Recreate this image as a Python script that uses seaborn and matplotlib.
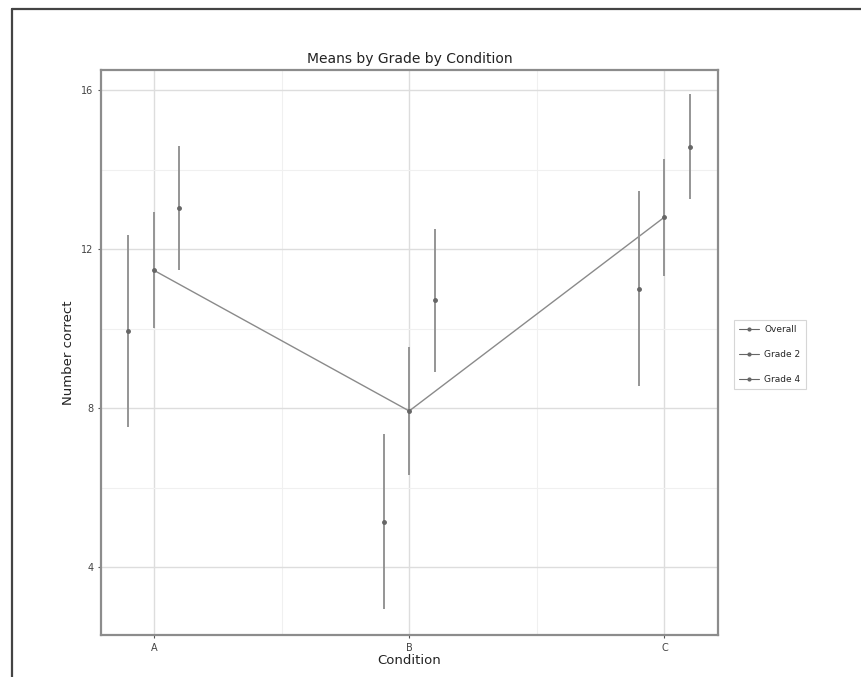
import numpy as np
import pandas as pd
import matplotlib.pyplot as plt
import seaborn as sns
from matplotlib.lines import Line2D

# Data
conditions = ['A', 'B', 'C']
overall_mean = [11.47, 7.93, 12.81]
overall_err = [1.46, 1.62, 1.47]
grade2_mean = [9.94, 5.14, 11.01]
grade2_err = [2.42, 2.20, 2.45]
grade4_mean = [13.05, 10.72, 14.58]
grade4_err = [1.56, 1.80, 1.32]

sns.set_theme(style='whitegrid')
plt.rcParams['font.family'] = ['DejaVu Sans']

fig = plt.figure(figsize=(8.62, 6.77), dpi=100)
ax = fig.add_axes([0.117, 0.062, 0.716, 0.835])

pos = np.arange(len(conditions))
df = pd.DataFrame({'pos': pos, 'mean': overall_mean})

grey = '#666666'
# connecting line for the overall means
sns.lineplot(data=df, x='pos', y='mean', ax=ax, color='#8a8a8a', lw=1.0, zorder=3)

series = [
    (overall_mean, overall_err, 0.0),
    (grade2_mean, grade2_err, -0.1),
    (grade4_mean, grade4_err, 0.1),
]
for means, errs, off in series:
    ax.errorbar(pos + off, means, yerr=errs, fmt='o', ms=2.5, color=grey,
                ecolor='#959595', elinewidth=1.4, capsize=0, zorder=4)

ax.set_xlim(-0.208, 2.21)
ax.set_ylim(2.29, 16.52)
ax.set_xticks(pos)
ax.set_xticklabels(conditions)
ax.set_yticks([4, 8, 12, 16])
ax.set_xticks([0.5, 1.5], minor=True)
ax.set_yticks([6, 10, 14], minor=True)
ax.grid(True, which='major', color='#dddddd', lw=1.0)
ax.grid(True, which='minor', color='#f0f0f0', lw=0.8)
for s in ax.spines.values():
    s.set_color('#8c8c8c')
    s.set_linewidth(1.6)
ax.tick_params(axis='both', which='major', labelsize=7, length=2.5, width=0.8,
               color='#555555', labelcolor='#444444', pad=3, left=True, bottom=True)
ax.tick_params(which='minor', length=0)

ax.set_title('Means by Grade by Condition', fontsize=10, color='#222222', pad=5)
ax.set_xlabel('Condition', fontsize=9.5, color='#222222', labelpad=1)
ax.set_ylabel('Number correct', fontsize=9.5, color='#222222', labelpad=4)

handles = [Line2D([0], [0], color=grey, lw=0.8, marker='o', ms=2) for _ in range(3)]
leg = fig.legend(handles, ['Overall', 'Grade 2', 'Grade 4'], loc='center left',
                 bbox_to_anchor=(0.846, 0.476), fontsize=6.5, frameon=True,
                 handlelength=2.2, labelspacing=1.75, borderpad=0.6, handletextpad=0.6)
leg.get_frame().set_edgecolor('#cccccc')
leg.get_frame().set_linewidth(0.8)
leg.get_frame().set_boxstyle('square', pad=0)

# outer border (top and left edges visible)
fig.add_artist(Line2D([0.0145, 0.0145], [0.0, 0.987], transform=fig.transFigure,
                      color='#444444', lw=1.6))
fig.add_artist(Line2D([0.0145, 1.0], [0.987, 0.987], transform=fig.transFigure,
                      color='#444444', lw=1.6))

fig.savefig('out.png', dpi=100)
